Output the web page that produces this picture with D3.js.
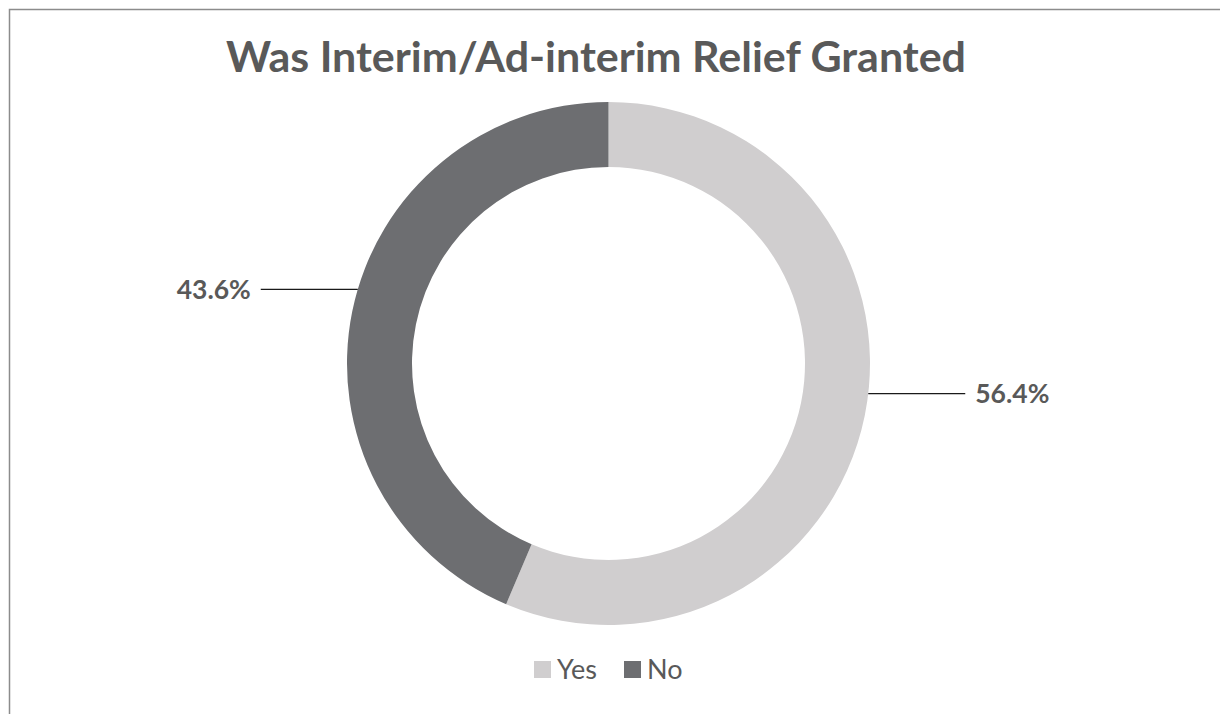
<!DOCTYPE html>
<html>
<head>
<meta charset="utf-8">
<script src="https://cdn.jsdelivr.net/npm/d3@7"></script>
<style>
  html, body { margin: 0; padding: 0; background: #ffffff; }
  svg { display: block; }
</style>
</head>
<body>
<svg id="chart" width="1220" height="714"></svg>
<script>
// Share of cases where interim / ad-interim relief was granted
const categories = ["Yes", "No"];
const shares = [56.4, 43.6];
const colors = ["#D0CECF", "#6D6E71"];
const chartTitle = "Was Interim/Ad-interim Relief Granted";

const W = 1220, H = 714;
const cx = 608.5, cy = 363.5;
const outerR = 261.5, innerR = 196.5;
const textColor = "#595959";

const svg = d3.select("#chart");

// chart frame (extends past the right and bottom edges of the view)
svg.append("rect")
  .attr("x", 9.5).attr("y", 9.5)
  .attr("width", W + 20).attr("height", H + 20)
  .attr("fill", "#ffffff")
  .attr("stroke", "#8c8c8c")
  .attr("stroke-width", 1.5);

svg.append("text")
  .attr("x", 596).attr("y", 72)
  .attr("text-anchor", "middle")
  .attr("font-family", "Lato, 'Open Sans', sans-serif")
  .attr("font-weight", 700)
  .attr("font-size", 42)
  .attr("textLength", 740)
  .attr("lengthAdjust", "spacingAndGlyphs")
  .attr("fill", textColor)
  .text(chartTitle);

const data = categories.map((c, i) => ({ cat: c, value: shares[i], color: colors[i] }));

const pie = d3.pie().value(d => d.value).sort(null);
const arc = d3.arc().innerRadius(innerR).outerRadius(outerR);
const arcs = pie(data);

const g = svg.append("g").attr("transform", `translate(${cx},${cy})`);

g.selectAll("path.slice")
  .data(arcs)
  .join("path")
  .attr("class", "slice")
  .attr("d", arc)
  .attr("fill", d => d.data.color);

// leader lines and percentage labels
const leaderLen = 97;
arcs.forEach(a => {
  const mid = (a.startAngle + a.endAngle) / 2;
  const my = -outerR * Math.cos(mid) - 22;
  const side = Math.sin(mid) >= 0 ? 1 : -1;
  const x0 = side * Math.sqrt(outerR * outerR - my * my);
  const x1 = x0 + side * leaderLen;
  g.append("line")
    .attr("x1", x0).attr("y1", my)
    .attr("x2", x1).attr("y2", my)
    .attr("stroke", "#1a1a1a")
    .attr("stroke-width", 1.2);
  g.append("text")
    .attr("x", x1 + side * 10)
    .attr("y", my)
    .attr("dy", "0.36em")
    .attr("text-anchor", side > 0 ? "start" : "end")
    .attr("font-family", "Lato, 'Open Sans', sans-serif")
    .attr("font-weight", 700)
    .attr("font-size", 26.5)
    .attr("fill", textColor)
    .text(d3.format(".1f")(a.data.value) + "%");
});

// legend
const legend = svg.append("g").attr("transform", "translate(534,661)");
const legendX = d3.scalePoint().domain(categories).range([0, 90]);
const item = legend.selectAll("g.item")
  .data(data)
  .join("g")
  .attr("class", "item")
  .attr("transform", d => `translate(${legendX(d.cat)},0)`);
item.append("rect")
  .attr("width", 17).attr("height", 17)
  .attr("fill", d => d.color);
item.append("text")
  .attr("x", 23).attr("y", 8.5)
  .attr("dy", "0.36em")
  .attr("font-family", "Lato, 'Open Sans', sans-serif")
  .attr("font-size", 27)
  .attr("fill", textColor)
  .text(d => d.cat);
</script>
</body>
</html>
